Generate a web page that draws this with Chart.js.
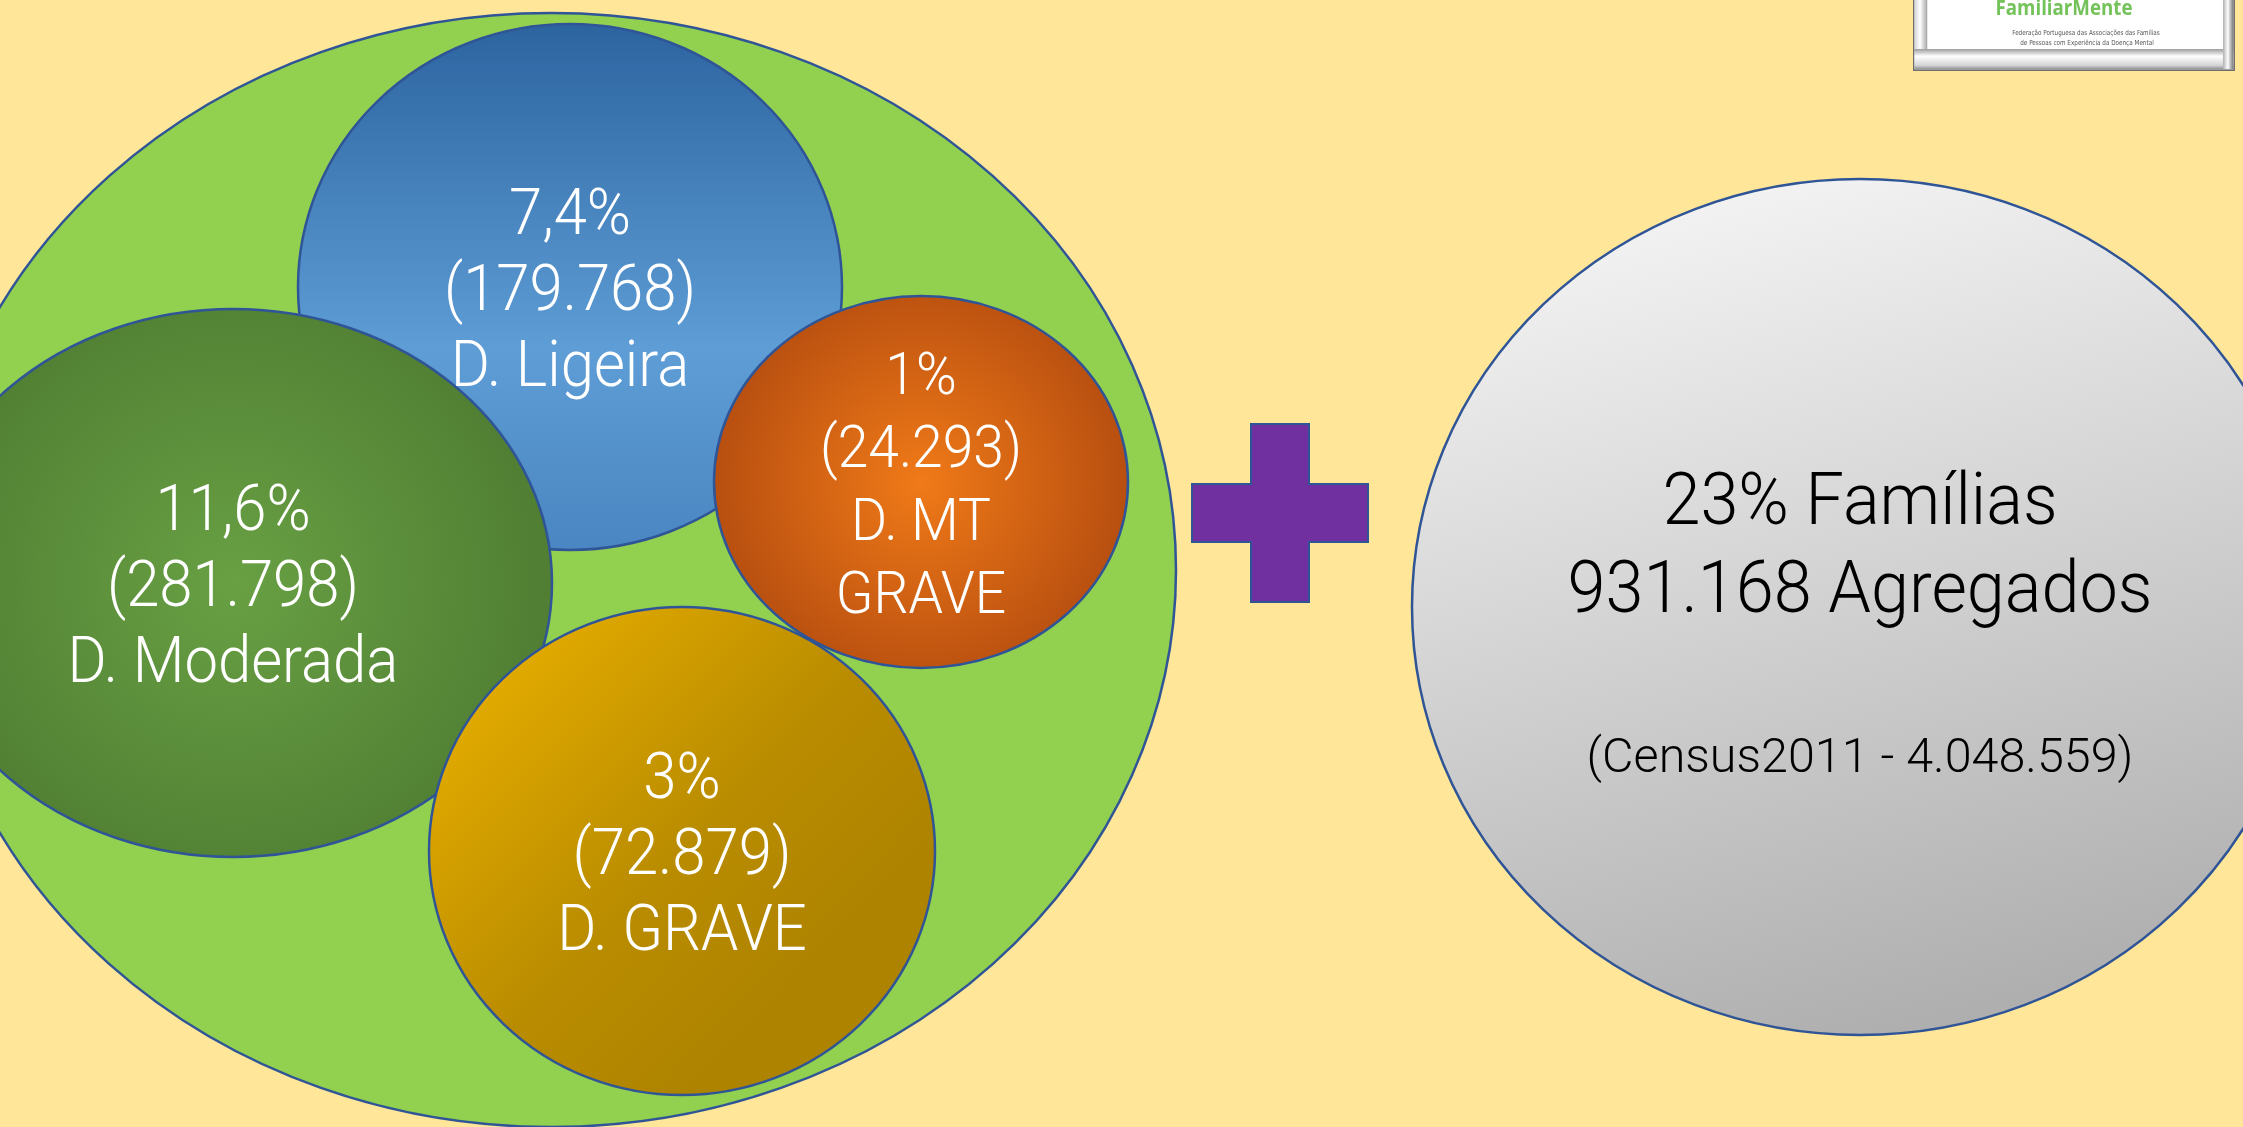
<!DOCTYPE html>
<html>
<head>
<meta charset="utf-8">
<script src="https://cdn.jsdelivr.net/npm/chart.js@4/dist/chart.umd.min.js"></script>
<style>
  html, body { margin: 0; padding: 0; background: #FFE699; overflow: hidden; }
  #wrap { width: 2243px; height: 1127px; position: relative; }
  canvas { display: block; }
</style>
</head>
<body>
<div id="wrap"><canvas id="c" width="2243" height="1127"></canvas></div>
<script>
// ---------- DATA ----------
const categories = ['D. Ligeira', 'D. Moderada', 'D. MT GRAVE', 'D. GRAVE'];
const categoryLines = [['D. Ligeira'], ['D. Moderada'], ['D. MT', 'GRAVE'], ['D. GRAVE']];
const percentLabels = ['7,4%', '11,6%', '1%', '3%'];
const countLabels = ['179.768', '281.798', '24.293', '72.879'];
const familiesLines = ['23% Famílias', '931.168 Agregados'];
const censusLabel = '(Census2011 - 4.048.559)';
const logoTitle = 'FamiliarMente';
const logoSubtitle = ['Federação Portuguesa das Associações das Famílias', 'de Pessoas com Experiência da Doença Mental'];

// ---------- LAYOUT (slide units: x 0..2243, y 0..1127) ----------
const outerCenter = [551, 570];
const outerRadius = [625, 557];
const bubbleX = [570, 233, 921, 682];
const bubbleY = [287, 583, 482, 851];
const bubbleRX = [272, 319, 207, 253];
const bubbleRY = [263, 274, 186, 244];
const familiesCenter = [1860, 607];
const familiesRadius = [448, 428];

// ---------- STYLE ----------
const BG = '#FFE699';
const EDGE = '#2F5597';

function gradFor(ctx, i, cx, cy, rx, ry) {
  let g;
  if (i === 0) { // blue
    g = ctx.createLinearGradient(cx, cy - ry, cx, cy + ry);
    g.addColorStop(0, '#2C64A0');
    g.addColorStop(0.62, '#5E9DD6');
    g.addColorStop(1, '#4A86C1');
  } else if (i === 1) { // dark green
    g = ctx.createRadialGradient(cx, cy, 0, cx, cy, Math.max(rx, ry));
    g.addColorStop(0, '#68A043');
    g.addColorStop(1, '#507E33');
  } else if (i === 2) { // orange
    g = ctx.createRadialGradient(cx, cy, 0, cx, cy, Math.max(rx, ry));
    g.addColorStop(0, '#F07A18');
    g.addColorStop(1, '#B84F10');
  } else { // gold
    g = ctx.createLinearGradient(cx - rx * 0.75, cy - ry * 0.75, cx + rx * 0.5, cy + ry * 0.5);
    g.addColorStop(0, '#E3AB00');
    g.addColorStop(0.6, '#B98C00');
    g.addColorStop(1, '#AE8300');
  }
  return g;
}

function ellipse(ctx, cx, cy, rx, ry, fill, lw) {
  ctx.beginPath();
  ctx.ellipse(cx, cy, rx, ry, 0, 0, Math.PI * 2);
  ctx.fillStyle = fill;
  ctx.fill();
  ctx.lineWidth = lw;
  ctx.strokeStyle = EDGE;
  ctx.stroke();
}

function text(ctx, str, x, y, size, color, condense, weight, family) {
  ctx.save();
  ctx.translate(x, y);
  ctx.scale(condense, 1);
  ctx.font = (weight || 300) + ' ' + size + 'px ' + (family || 'Roboto, "Open Sans", sans-serif');
  ctx.fillStyle = color;
  ctx.textAlign = 'center';
  ctx.textBaseline = 'alphabetic';
  ctx.fillText(str, 0, 0);
  ctx.restore();
}

const drawPlugin = {
  id: 'infographic',
  beforeDraw(chart) {
    const ctx = chart.ctx;
    ctx.save();
    ctx.fillStyle = BG;
    ctx.fillRect(0, 0, chart.width, chart.height);
    ctx.restore();
  },
  beforeDatasetsDraw(chart) {
    const ctx = chart.ctx;
    const xs = chart.scales.x, ys = chart.scales.y;
    const w = v => Math.abs(xs.getPixelForValue(v) - xs.getPixelForValue(0));
    const h = v => Math.abs(ys.getPixelForValue(v) - ys.getPixelForValue(0));
    ctx.save();

    // outer ellipse
    const outer = chart.getDatasetMeta(0).data[0];
    ellipse(ctx, outer.x, outer.y, w(outerRadius[0]), h(outerRadius[1]), '#92D050', 2.5);

    // category bubbles
    const meta = chart.getDatasetMeta(1);
    meta.data.forEach((el, i) => {
      const rx = w(bubbleRX[i]), ry = h(bubbleRY[i]);
      ellipse(ctx, el.x, el.y, rx, ry, gradFor(ctx, i, el.x, el.y, rx, ry), 2.5);
    });
    meta.data.forEach((el, i) => {
      const lines = [percentLabels[i], '(' + countLabels[i] + ')'].concat(categoryLines[i]);
      const small = lines.length > 3;
      const size = small ? 60 : 65;
      const pitch = small ? 73 : 76;
      const cap = size * 0.711;
      const n = lines.length;
      lines.forEach((ln, k) => {
        const by = el.y - (n - 1) / 2 * pitch + k * pitch + cap / 2;
        text(ctx, ln, el.x, by, size, '#FFFFFF', 0.92, 300);
      });
    });

    // plus sign
    const cx = xs.getPixelForValue(1280), cy = ys.getPixelForValue(513);
    const aw = w(29), vl = h(89), hl = w(88), ah = h(29);
    ctx.beginPath();
    ctx.moveTo(cx - aw, cy - vl);
    ctx.lineTo(cx + aw, cy - vl);
    ctx.lineTo(cx + aw, cy - ah);
    ctx.lineTo(cx + hl, cy - ah);
    ctx.lineTo(cx + hl, cy + ah);
    ctx.lineTo(cx + aw, cy + ah);
    ctx.lineTo(cx + aw, cy + vl);
    ctx.lineTo(cx - aw, cy + vl);
    ctx.lineTo(cx - aw, cy + ah);
    ctx.lineTo(cx - hl, cy + ah);
    ctx.lineTo(cx - hl, cy - ah);
    ctx.lineTo(cx - aw, cy - ah);
    ctx.closePath();
    ctx.fillStyle = '#7030A0';
    ctx.fill();
    ctx.lineWidth = 2;
    ctx.strokeStyle = EDGE;
    ctx.stroke();

    // families ellipse
    const fam = chart.getDatasetMeta(2).data[0];
    const frx = w(familiesRadius[0]), fry = h(familiesRadius[1]);
    const gg = ctx.createLinearGradient(fam.x - frx * 0.25, fam.y - fry, fam.x + frx * 0.25, fam.y + fry);
    gg.addColorStop(0, '#F3F3F3');
    gg.addColorStop(1, '#ADADAD');
    ellipse(ctx, fam.x, fam.y, frx, fry, gg, 2.5);
    text(ctx, familiesLines[0], fam.x, fam.y - h(83), 72, '#000000', 0.95, 300);
    text(ctx, familiesLines[1], fam.x, fam.y + h(5), 72, '#000000', 0.95, 300);
    text(ctx, censusLabel, fam.x, fam.y + h(165), 48, '#000000', 1.01, 300);

    // logo
    const lx0 = xs.getPixelForValue(1913), lx1 = xs.getPixelForValue(2235);
    const ly0 = ys.getPixelForValue(0), ly1 = ys.getPixelForValue(71);
    ctx.fillStyle = '#6E6E6E';
    ctx.fillRect(lx0, ly0, lx1 - lx0, ly1 - ly0);
    ctx.fillStyle = '#F4F4F4';
    ctx.fillRect(lx0 + 1.5, ly0, lx1 - lx0 - 3, ly1 - ly0 - 1.5);
    let gb = ctx.createLinearGradient(0, ly1 - 22, 0, ly1 - 1.5);
    gb.addColorStop(0, '#9C9C9C');
    gb.addColorStop(0.35, '#FFFFFF');
    gb.addColorStop(0.8, '#D4D4D4');
    gb.addColorStop(1, '#8A8A8A');
    ctx.fillStyle = gb;
    ctx.fillRect(lx0 + 1.5, ly1 - 22, lx1 - lx0 - 3, 20.5);
    let gl = ctx.createLinearGradient(lx0, 0, lx0 + 14, 0);
    gl.addColorStop(0, '#C8C8C8');
    gl.addColorStop(0.5, '#FFFFFF');
    gl.addColorStop(1, '#A8A8A8');
    ctx.fillStyle = gl;
    ctx.fillRect(lx0 + 1.5, ly0, 13, ly1 - ly0 - 22);
    let gr = ctx.createLinearGradient(lx1 - 12, 0, lx1, 0);
    gr.addColorStop(0, '#B0B0B0');
    gr.addColorStop(0.4, '#FFFFFF');
    gr.addColorStop(1, '#505050');
    ctx.fillStyle = gr;
    ctx.fillRect(lx1 - 12, ly0, 10.5, ly1 - ly0 - 2);
    ctx.fillStyle = '#FFFFFF';
    ctx.fillRect(lx0 + 14.5, ly0, lx1 - lx0 - 26.5, ly1 - ly0 - 22);
    text(ctx, logoTitle, xs.getPixelForValue(2064), ys.getPixelForValue(15), 22, '#74C25A', 0.85, 'bold', '"Open Sans", Roboto, sans-serif');
    text(ctx, logoSubtitle[0], xs.getPixelForValue(2086), ys.getPixelForValue(35), 7, '#555555', 0.9, 'normal', '"DejaVu Sans Condensed", sans-serif');
    text(ctx, logoSubtitle[1], xs.getPixelForValue(2087), ys.getPixelForValue(45), 7, '#555555', 0.9, 'normal', '"DejaVu Sans Condensed", sans-serif');

    ctx.restore();
  }
};

function build() {
  new Chart(document.getElementById('c'), {
    type: 'scatter',
    data: {
      datasets: [
        { label: 'Total', data: [{ x: outerCenter[0], y: outerCenter[1] }], pointRadius: 0 },
        { label: 'Níveis', data: categories.map((c, i) => ({ x: bubbleX[i], y: bubbleY[i] })), pointRadius: 0 },
        { label: 'Famílias', data: [{ x: familiesCenter[0], y: familiesCenter[1] }], pointRadius: 0 }
      ]
    },
    options: {
      responsive: false,
      animation: false,
      events: [],
      layout: { padding: 0 },
      plugins: { legend: { display: false }, tooltip: { enabled: false } },
      scales: {
        x: { type: 'linear', min: 0, max: 2243, display: false },
        y: { type: 'linear', min: 0, max: 1127, reverse: true, display: false }
      }
    },
    plugins: [drawPlugin]
  });
}

Promise.all([
  document.fonts.load('300 65px Roboto'),
  document.fonts.load('bold 22px "Open Sans"')
]).then(build, build);
</script>
</body>
</html>
